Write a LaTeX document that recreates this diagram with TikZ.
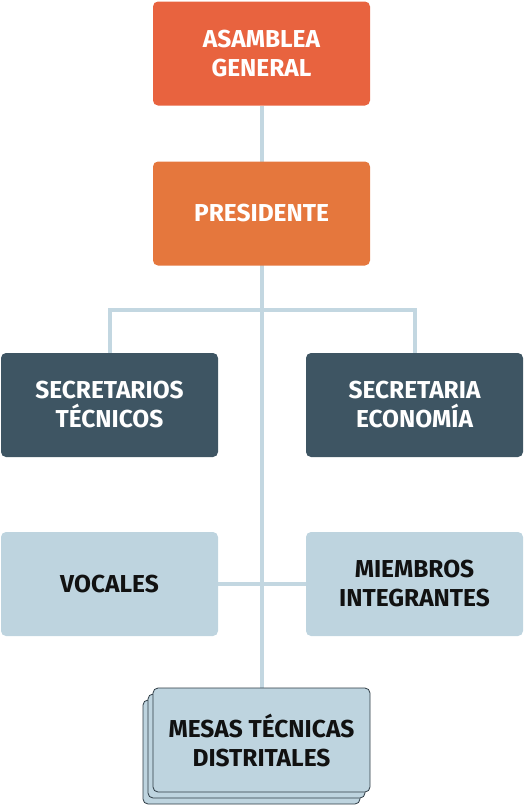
\documentclass[tikz,border=0pt]{standalone}
\usepackage{fontspec}
\setsansfont{Fira Sans}
\usetikzlibrary{backgrounds}

\definecolor{orgred}{HTML}{E8633F}
\definecolor{orgorange}{HTML}{E5773D}
\definecolor{orgslate}{HTML}{3E5563}
\definecolor{orgpale}{HTML}{BED4DF}
\definecolor{orgline}{HTML}{C3D7E1}
\definecolor{orgink}{HTML}{111111}
\definecolor{orgedge}{HTML}{2E3B44}

\begin{document}
\begin{tikzpicture}[
  x=1pt, y=-1pt,
  font=\sffamily\bfseries\fontsize{24.5}{29}\selectfont,
  orgbox/.style={rounded corners=5pt, minimum width=217pt,
    minimum height=104pt, align=center, inner sep=0pt},
  topbox/.style={orgbox, fill=orgred, text=white},
  headbox/.style={orgbox, fill=orgorange, text=white},
  darkbox/.style={orgbox, fill=orgslate, text=white},
  palebox/.style={orgbox, fill=orgpale, text=orgink},
  stackbox/.style={palebox, draw=orgedge, line width=0.8pt},
  link/.style={orgline, line width=4pt},
]
\useasboundingbox (0,0) rectangle (524,807);

\node[topbox]  (asamblea) at (261.5, 53.5) {ASAMBLEA\\GENERAL};
\node[headbox] (presid)   at (261.5, 213.5) {PRESIDENTE};

\node[darkbox] (sectec)   at (109.5, 405) {SECRETARIOS\\TÉCNICOS};
\node[darkbox] (sececo)   at (414.5, 405) {SECRETARIA\\ECONOMÍA};

\node[palebox] (vocales)  at (109.5, 584) {VOCALES};
\node[palebox] (miembros) at (414.5, 584) {MIEMBROS\\INTEGRANTES};

% stacked sheets behind the last box
\node[stackbox] (mesasb) at (251.5, 752) {};
\node[stackbox] (mesasa) at (256.5, 746) {};
\node[stackbox] (mesas)  at (261.5, 740) {MESAS TÉCNICAS\\DISTRITALES};

\begin{scope}[on background layer]
  \draw[link] (asamblea.south) -- (mesas.north);
  \draw[link] (sectec.north) -- ++(0,-43) -| (sececo.north);
  \draw[link] (vocales.east) -- (miembros.west);
\end{scope}

\end{tikzpicture}
\end{document}
